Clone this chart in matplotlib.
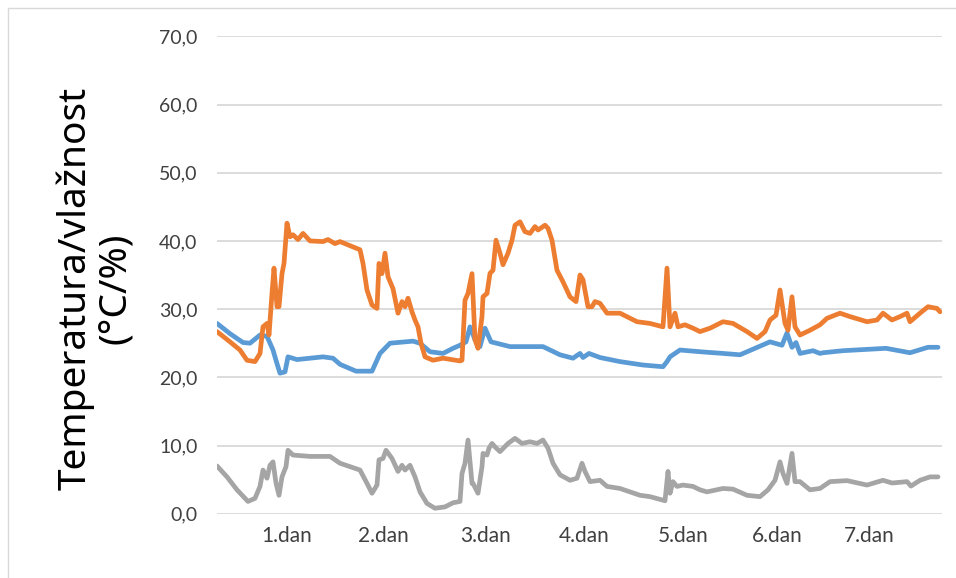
import matplotlib
matplotlib.use("Agg")
import matplotlib.pyplot as plt
from matplotlib.patches import Rectangle

# time in reading index (0 .. 725)
day_ticks = [70, 166, 269, 367, 466, 560, 652]
day_labels = ["1.dan", "2.dan", "3.dan", "4.dan", "5.dan", "6.dan", "7.dan"]
y_ticks = [0, 10, 20, 30, 40, 50, 60, 70]
y_labels = ["0,0", "10,0", "20,0", "30,0", "40,0", "50,0", "60,0", "70,0"]

blue_t = [0, 13, 26, 33, 43, 50, 56, 60, 63, 68, 71, 80, 106, 116, 123, 139, 155, 163, 173,
          196, 203, 213, 226, 236, 243, 249, 253, 258, 263, 268, 274, 293, 326, 343, 356,
          363, 366, 372, 383, 403, 426, 446, 450, 453, 463, 483, 483, 506, 506, 523, 553,
          565, 570, 575, 579, 583, 596, 603, 606, 626, 669, 693, 711, 721]
blue_v = [27.9, 26.4, 25.1, 25.0, 26.2, 26.0, 24.0, 22.0, 20.6, 20.8, 23.0, 22.6, 23.0, 22.8, 21.9,
          20.9, 20.9, 23.5, 25.0,
          25.3, 25.0, 23.75, 23.5, 24.25, 24.7, 25.2, 27.4, 25.5, 24.5, 27.2, 25.2, 24.5, 24.5, 23.3, 22.8,
          23.5, 22.9, 23.5, 22.9, 22.3, 21.8, 21.55, 22.3, 23.0, 24.0, 23.75, 23.75, 23.5, 23.5, 23.3, 25.2,
          24.7, 26.5, 24.4, 25.1, 23.5, 23.9, 23.5, 23.6, 23.9, 24.25, 23.6, 24.4, 24.4]

orange_t = [0, 13, 23, 30, 38, 43, 46, 50, 52, 55, 57, 60, 62, 65, 67, 70, 73, 76, 81, 86, 93,
            106, 111, 118, 123, 143, 146, 150, 155, 160, 162, 165, 168, 171, 176, 181, 185, 188,
            191, 195, 198, 201, 204, 208, 216, 226, 243, 245, 248, 251, 255, 258, 261, 265, 266,
            270, 273, 276, 279, 283, 286, 291, 295, 298, 303, 308, 313, 318, 321, 328, 331, 335,
            340, 346, 353, 359, 363, 366, 371, 375, 378, 383, 390, 403, 420, 433, 446, 450, 453,
            458, 461, 468, 476, 483, 493, 506, 516, 530, 540, 548, 553, 559, 563, 568, 571, 575,
            578, 583, 593, 603, 610, 623, 633, 650, 660, 666, 675, 683, 690, 693, 703, 711, 720, 723]
orange_v = [26.7, 25.2, 24.0, 22.5, 22.3, 23.5, 27.4, 27.9, 26.2, 32.3, 36.0, 30.35, 30.35, 35.2,
            36.7, 42.6, 40.6, 40.9, 40.2, 41.1, 40.0,
            39.9, 40.2, 39.6, 39.9, 38.7, 36.7, 32.8, 30.6, 30.1, 36.7, 35.2, 38.2, 34.75, 33.0, 29.4,
            31.1, 30.35, 31.6, 29.6, 28.4, 27.4, 25.0, 23.0, 22.5, 22.8, 22.4, 22.5, 31.3, 32.3, 35.2,
            25.5, 24.25, 28.9, 31.8, 32.3, 35.25, 35.7, 40.1, 38.2, 36.5, 38.2, 40.1, 42.3, 42.8, 41.35,
            41.1, 42.1, 41.6, 42.3, 41.85, 40.1, 35.7, 34.0, 31.8, 31.1, 35.0, 34.3, 30.35, 30.35, 31.1,
            30.85, 29.4, 29.4, 28.15, 27.9, 27.4, 36.0, 27.4, 29.4, 27.4, 27.7, 27.2, 26.7, 27.2, 28.15,
            27.9, 26.7, 25.7, 26.7, 28.4, 29.1, 32.8, 27.9, 26.9, 31.8, 27.4, 26.2, 26.9, 27.7, 28.65,
            29.4, 28.9, 28.15, 28.4, 29.4, 28.4, 28.9, 29.4, 28.15, 29.4, 30.35, 30.1, 29.6]

gray_t = [0, 10, 20, 31, 38, 43, 46, 50, 53, 56, 59, 62, 65, 69, 71, 76, 93, 113, 123, 143,
          150, 155, 160, 162, 166, 169, 175, 181, 185, 188, 193, 198, 203, 210, 218, 228, 236,
          243, 245, 248, 251, 255, 256, 261, 265, 266, 270, 272, 275, 278, 283, 291, 298, 305,
          313, 320, 326, 331, 336, 343, 353, 360, 365, 368, 373, 383, 390, 403, 423, 433, 448,
          451, 453, 456, 460, 466, 476, 483, 490, 506, 516, 530, 543, 551, 558, 563, 566, 570,
          575, 578, 583, 593, 603, 613, 630, 650, 666, 675, 690, 694, 703, 713, 721]
gray_v = [7.0, 5.4, 3.5, 1.8, 2.25, 4.0, 6.4, 5.2, 7.1, 7.6, 4.5, 2.7, 5.4, 6.9, 9.3, 8.6, 8.4,
          8.4, 7.4, 6.4,
          4.45, 3.0, 4.2, 7.9, 8.1, 9.3, 8.1, 6.2, 7.1, 6.4, 7.1, 5.4, 3.2, 1.5, 0.8, 1.0, 1.6,
          1.8, 5.9, 7.4, 10.8, 4.45, 4.45, 3.0, 6.9, 8.85, 8.6, 9.6, 10.3, 9.8, 9.1, 10.3, 11.05, 10.3,
          10.55, 10.3, 10.8, 9.6, 7.4, 5.7, 4.9, 5.2, 7.4, 6.2, 4.7, 4.9, 4.0, 3.7, 2.7, 2.5, 1.9,
          6.2, 3.0, 4.7, 4.0, 4.2, 4.0, 3.5, 3.2, 3.7, 3.6, 2.7, 2.5, 3.5, 4.9, 7.6, 5.9, 4.45,
          8.85, 4.7, 4.7, 3.5, 3.7, 4.7, 4.85, 4.2, 4.9, 4.5, 4.7, 4.05, 4.9, 5.4, 5.4]

BLUE = "#5B9BD5"
ORANGE = "#ED7D31"
GRAY = "#A5A5A5"

fig = plt.figure(figsize=(9.56, 5.78), dpi=100)
fig.patches.append(Rectangle((8 / 956, -0.01), 1.0, 1.0 - 8 / 578 + 0.01,
                             transform=fig.transFigure, fill=False,
                             edgecolor="#D9D9D9", linewidth=1.0))
ax = fig.add_axes([217 / 956, 1 - 513.7 / 578, (942 - 217) / 956, (513.7 - 36.3) / 578])

ax.plot(blue_t, blue_v, color=BLUE, lw=3.4, solid_joinstyle="round", solid_capstyle="round", zorder=3)
ax.plot(orange_t, orange_v, color=ORANGE, lw=3.4, solid_joinstyle="round", solid_capstyle="round", zorder=4)
ax.plot(gray_t, gray_v, color=GRAY, lw=3.4, solid_joinstyle="round", solid_capstyle="round", zorder=3)

ax.set_xlim(0, 725)
ax.set_ylim(0, 70)
ax.set_yticks(y_ticks)
ax.set_yticklabels(y_labels)
ax.set_xticks(day_ticks)
ax.set_xticklabels(day_labels)
ax.grid(axis="y", color="#D9D9D9", lw=1.3)
ax.set_axisbelow(True)
for s in ax.spines.values():
    s.set_visible(False)
ax.tick_params(axis="y", length=0, labelsize=14, pad=14)
ax.tick_params(axis="x", length=0, labelsize=15, pad=9)
for lab in ax.get_xticklabels() + ax.get_yticklabels():
    lab.set_fontfamily("Lato")
    lab.set_color("#404040")

fig.text(95 / 956, 1 - 288 / 578, "Temperatura/vlažnost\n(°C/%)", rotation=90,
         ha="center", va="center", fontsize=28, family="Noto Sans", color="black",
         linespacing=1.02)

fig.savefig("out.png", dpi=100)
